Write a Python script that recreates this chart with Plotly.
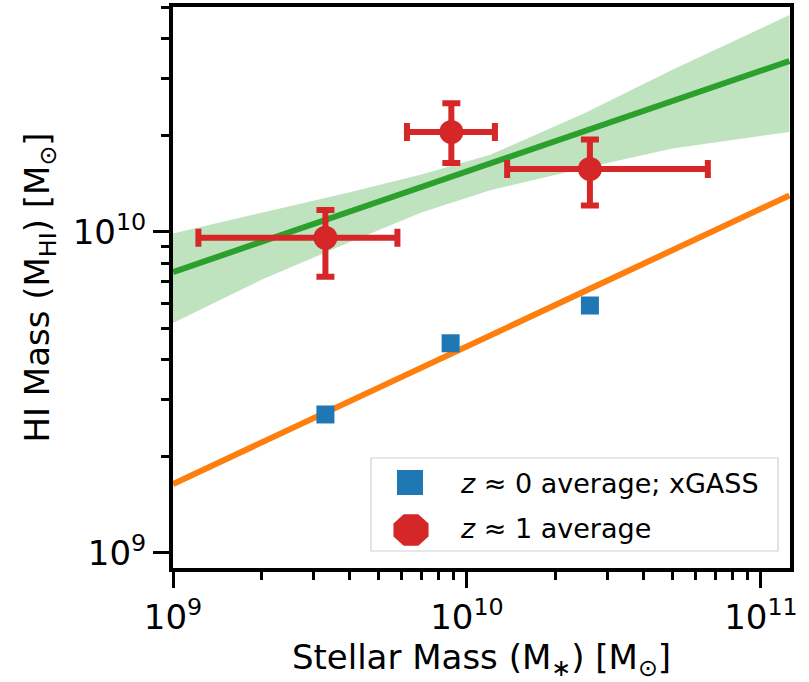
import math
import plotly.graph_objects as go

# ---- data ----
xgass_mstar = [3.3e9, 8.8e9, 2.62e10]
xgass_mhi = [2.7e9, 4.5e9, 5.9e9]

z1_mstar = [3.3e9, 8.85e9, 2.62e10]
z1_mhi = [9.6e9, 2.05e10, 1.57e10]
z1_mstar_lo = [1.22e9, 6.25e9, 1.37e10]
z1_mstar_hi = [5.8e9, 1.245e10, 6.6e10]
z1_mhi_lo = [7.25e9, 1.64e10, 1.21e10]
z1_mhi_hi = [1.17e10, 2.52e10, 1.94e10]

fit_mstar = [1e9, 1.25e11]
z0_fit_mhi = [1.64e9, 1.30e10]
z1_fit_mhi = [7.5e9, 3.41e10]

band_mstar = [1e9, 2e9, 4e9, 7e9, 1.2e10, 2.5e10, 5e10, 1.25e11]
band_upper = [9.9e9, 1.15e10, 1.33e10, 1.51e10, 1.74e10, 2.34e10, 3.2e10, 4.74e10]
band_lower = [5.2e9, 7.1e9, 9.3e9, 1.15e10, 1.35e10, 1.58e10, 1.82e10, 2.05e10]

major_ticks = [1e9, 1e10, 1e11]
major_text = ["10<sup>9</sup>", "10<sup>10</sup>", "10<sup>11</sup>"]
minor_ticks = [m * 10 ** e for e in (9, 10) for m in range(2, 10)]

label_z0 = "<i>z</i> ≈ 0 average; xGASS"
label_z1 = "<i>z</i> ≈ 1 average"

RED = "#d62728"
BLUE = "#1f77b4"
ORANGE = "#ff7f0e"
GREEN = "#2ca02c"
FONT = "DejaVu Sans"

# plot-area geometry in pixels
W, H = 809, 682
L, R, T, B = 173, 19, 7, 114
PW, PH = W - L - R, H - T - B


def px(xp):
    return (xp - L) / PW


def py(yp):
    return (H - B - yp) / PH


fig = go.Figure()

# confidence band
fig.add_trace(go.Scatter(x=band_mstar, y=band_lower, mode="lines",
                         line=dict(width=0, color="rgba(0,0,0,0)"),
                         showlegend=False, hoverinfo="skip"))
fig.add_trace(go.Scatter(x=band_mstar, y=band_upper, mode="lines",
                         line=dict(width=0, color="rgba(0,0,0,0)"),
                         fill="tonexty", fillcolor="rgba(44,160,44,0.3)",
                         showlegend=False, hoverinfo="skip"))
# fits
fig.add_trace(go.Scatter(x=fit_mstar, y=z1_fit_mhi, mode="lines",
                         line=dict(color=GREEN, width=6), showlegend=False))
fig.add_trace(go.Scatter(x=fit_mstar, y=z0_fit_mhi, mode="lines",
                         line=dict(color=ORANGE, width=6), showlegend=False))

# xGASS points
fig.add_trace(go.Scatter(x=xgass_mstar, y=xgass_mhi, mode="markers",
                         marker=dict(symbol="square", size=18, color=BLUE),
                         name=label_z0, showlegend=False))

# z~1 points with asymmetric error bars
ex_plus = [h - v for h, v in zip(z1_mstar_hi, z1_mstar)]
ex_minus = [v - l for v, l in zip(z1_mstar, z1_mstar_lo)]
ey_plus = [h - v for h, v in zip(z1_mhi_hi, z1_mhi)]
ey_minus = [v - l for v, l in zip(z1_mhi, z1_mhi_lo)]
fig.add_trace(go.Scatter(x=z1_mstar, y=z1_mhi, mode="markers",
                         marker=dict(symbol="circle", size=24, color=RED),
                         error_x=dict(type="data", array=ex_plus, arrayminus=ex_minus,
                                      color=RED, thickness=6, width=9),
                         error_y=dict(type="data", array=ey_plus, arrayminus=ey_minus,
                                      color=RED, thickness=6, width=9),
                         name=label_z1, showlegend=False))

# ---- legend box (drawn in paper coordinates) ----
shapes = []
shapes.append(dict(type="rect", xref="paper", yref="paper",
                   x0=px(371), x1=px(778), y0=py(551), y1=py(458),
                   line=dict(color="#d0d0d0", width=1.2),
                   fillcolor="rgba(255,255,255,0.85)", layer="above"))
# square handle
shapes.append(dict(type="rect", xref="paper", yref="paper",
                   x0=px(397), x1=px(423), y0=py(495), y1=py(470),
                   line=dict(width=0), fillcolor=BLUE, layer="above"))
# octagon handle
cx, cy, rx, ry = 411, 530, 19, 17
pts = []
for k in range(8):
    a = math.radians(22.5 + 45 * k)
    pts.append((px(cx + rx * math.cos(a)), py(cy + ry * math.sin(a))))
path = "M " + " L ".join(f"{x:.5f},{y:.5f}" for x, y in pts) + " Z"
shapes.append(dict(type="path", xref="paper", yref="paper", path=path,
                   line=dict(width=0), fillcolor=RED, layer="above"))

annotations = [
    dict(text=label_z0, xref="paper", yref="paper", x=px(458), y=py(483),
         xanchor="left", yanchor="middle", showarrow=False,
         font=dict(family=FONT, size=27, color="black")),
    dict(text=label_z1, xref="paper", yref="paper", x=px(458), y=py(528),
         xanchor="left", yanchor="middle", showarrow=False,
         font=dict(family=FONT, size=27, color="black")),
]

axis_common = dict(
    type="log", showline=True, linewidth=4, linecolor="black", mirror=True,
    ticks="outside", ticklen=16, tickwidth=3, tickcolor="black",
    tickmode="array", tickvals=major_ticks, ticktext=major_text,
    tickfont=dict(family=FONT, size=34, color="black"),
    showgrid=False, zeroline=False, automargin=False,
    minor=dict(ticks="outside", ticklen=8, tickwidth=3, tickcolor="black",
               tickmode="array", tickvals=minor_ticks, showgrid=False),
)

fig.update_layout(
    width=W, height=H,
    margin=dict(l=L, r=R, t=T, b=B),
    paper_bgcolor="white", plot_bgcolor="white",
    font=dict(family=FONT, color="black"),
    xaxis=dict(axis_common, range=[9, 11.099],
               title=dict(text="Stellar Mass (M<sub>∗</sub>) [M<sub>⊙</sub>]",
                          font=dict(family=FONT, size=34), standoff=10)),
    yaxis=dict(axis_common, range=[8.953, 10.701],
               title=dict(text="HI Mass (M<sub>HI</sub>) [M<sub>⊙</sub>]",
                          font=dict(family=FONT, size=34), standoff=14)),
    shapes=shapes,
    annotations=annotations,
    showlegend=False,
    hovermode=False,
)

fig.write_html("out.html",
               config={"displayModeBar": False, "staticPlot": True},
               post_script="document.body.style.margin='0px';"
                           "document.body.style.padding='0px';"
                           "document.body.style.overflow='hidden';")
